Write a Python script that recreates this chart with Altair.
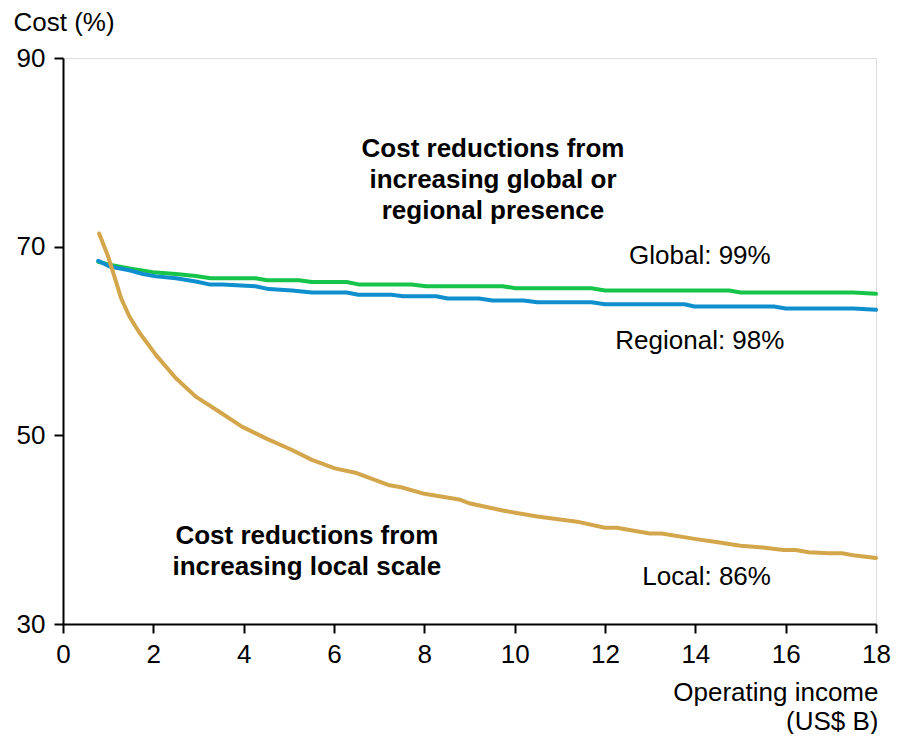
import altair as alt
import pandas as pd

# ---- data ----
local_x = [0.8, 1.0, 1.14, 1.29, 1.47, 1.69, 2.06, 2.5, 2.94, 3.46, 3.97, 4.48, 5.07, 5.51, 6.02, 6.5,
           7.23, 7.49, 8.0, 8.77, 8.99, 9.76, 10.5, 11.38, 12.0, 12.26, 12.99, 13.25, 14.02, 14.46,
           15.0, 15.49, 15.96, 16.22, 16.51, 16.95, 17.25, 17.54, 18.0]
local_y = [71.4, 68.95, 66.8, 64.5, 62.6, 60.9, 58.5, 56.05, 54.1, 52.5, 50.9, 49.7, 48.45, 47.4, 46.5, 46.0,
           44.7, 44.5, 43.8, 43.2, 42.8, 42.0, 41.4, 40.85, 40.2, 40.2, 39.6, 39.6, 39.0, 38.7,
           38.3, 38.1, 37.85, 37.85, 37.6, 37.5, 37.5, 37.25, 37.0]

global_x = [0.78, 1.03, 1.47, 1.99, 2.5, 2.94, 3.27, 4.26, 4.52, 5.22, 5.51, 6.28, 6.54, 7.71, 8.04,
            9.73, 10.02, 11.7, 12.0, 14.75, 15.0, 17.5, 18.0]
global_y = [68.4, 68.1, 67.7, 67.3, 67.1, 66.9, 66.65, 66.65, 66.45, 66.45, 66.25, 66.25, 66.0, 66.0, 65.8,
            65.8, 65.6, 65.6, 65.35, 65.35, 65.15, 65.15, 65.0]

regional_x = [0.78, 1.03, 1.47, 1.77, 2.06, 2.5, 2.94, 3.24, 3.53, 4.26, 4.56, 5.07, 5.51, 6.28, 6.54,
              7.27, 7.53, 8.26, 8.52, 9.21, 9.51, 10.2, 10.5, 11.7, 12.0, 13.76, 13.98, 15.74, 16.0,
              17.5, 18.0]
regional_y = [68.5, 67.9, 67.5, 67.1, 66.85, 66.65, 66.3, 66.0, 66.0, 65.8, 65.5, 65.35, 65.15, 65.15, 64.9,
              64.9, 64.75, 64.75, 64.5, 64.5, 64.3, 64.3, 64.1, 64.1, 63.9, 63.9, 63.65, 63.65, 63.45,
              63.45, 63.3]

series_names = ["Global", "Regional", "Local"]
series_colors = ["#16c44a", "#0f8fcd", "#d4a64c"]

x_ticks = [0, 2, 4, 6, 8, 10, 12, 14, 16, 18]
y_ticks = [30, 50, 70, 90]

notes_text = ["Cost reductions from\nincreasing global or\nregional presence",
              "Global: 99%", "Regional: 98%",
              "Cost reductions from\nincreasing local scale",
              "Local: 86%"]
notes_x = [9.52, 14.1, 14.1, 5.4, 14.25]
notes_y = [79.5, 68.2, 59.2, 38.5, 34.1]
notes_bold = [True, False, False, True, False]

# ---- build tables ----
rows = []
for name, xs, ys in [("Global", global_x, global_y), ("Regional", regional_x, regional_y),
                     ("Local", local_x, local_y)]:
    for a, b in zip(xs, ys):
        rows.append({"series": name, "x": a, "y": b})
df = pd.DataFrame(rows)

notes = pd.DataFrame({"text": notes_text, "x": notes_x, "y": notes_y, "bold": notes_bold})

FONT = "Liberation Sans"
FS = 26
W, H = 813, 566

xenc = alt.X("x:Q", scale=alt.Scale(domain=[0, 18], nice=False, zero=False),
             axis=alt.Axis(values=x_ticks, title=["Operating income", "(US$ B)"],
                           titleX=815, titleY=76, titleAlign="right", titleBaseline="alphabetic",
                           titleLineHeight=29, titleFontWeight="normal", titleFontSize=FS,
                           titleFont=FONT, titleColor="black",
                           labelFontSize=FS, labelFont=FONT, labelColor="black", labelPadding=8,
                           tickSize=9, tickColor="black", tickWidth=2,
                           domainColor="black", domainWidth=2, grid=False, labelFlush=False))
yenc = alt.Y("y:Q", scale=alt.Scale(domain=[30, 90], nice=False, zero=False),
             axis=alt.Axis(values=y_ticks, title="Cost (%)", titleAngle=0,
                           titleX=-50, titleY=-28, titleAlign="left", titleBaseline="alphabetic",
                           titleFontWeight="normal", titleFontSize=FS, titleFont=FONT, titleColor="black",
                           labelFontSize=FS, labelFont=FONT, labelColor="black", labelPadding=9,
                           tickSize=9, tickColor="black", tickWidth=2,
                           domainColor="black", domainWidth=2, grid=False, labelFlush=False))

layers = []
for name, col in zip(series_names, series_colors):
    layers.append(
        alt.Chart(df).transform_filter(alt.datum.series == name)
        .mark_line(color=col, strokeWidth=4, strokeJoin="round", strokeCap="round")
        .encode(x=xenc, y=yenc)
    )

bold_notes = alt.Chart(notes).transform_filter(alt.datum.bold == True).mark_text(
    font=FONT, fontSize=FS, fontWeight="bold", align="center", baseline="alphabetic",
    lineBreak="\n", lineHeight=31, color="black"
).encode(x="x:Q", y="y:Q", text="text:N")

plain_notes = alt.Chart(notes).transform_filter(alt.datum.bold == False).mark_text(
    font=FONT, fontSize=FS, align="center", baseline="alphabetic", color="black"
).encode(x="x:Q", y="y:Q", text="text:N")

chart = alt.layer(*layers, bold_notes, plain_notes).properties(
    width=W, height=H,
    autosize=alt.AutoSizeParams(type="none"),
    padding={"left": 55, "top": 50, "right": 15, "bottom": 110},
).configure_view(stroke=None).configure(font=FONT, background="white")

chart.save("out.html", embed_options={"renderer": "svg", "actions": False})
